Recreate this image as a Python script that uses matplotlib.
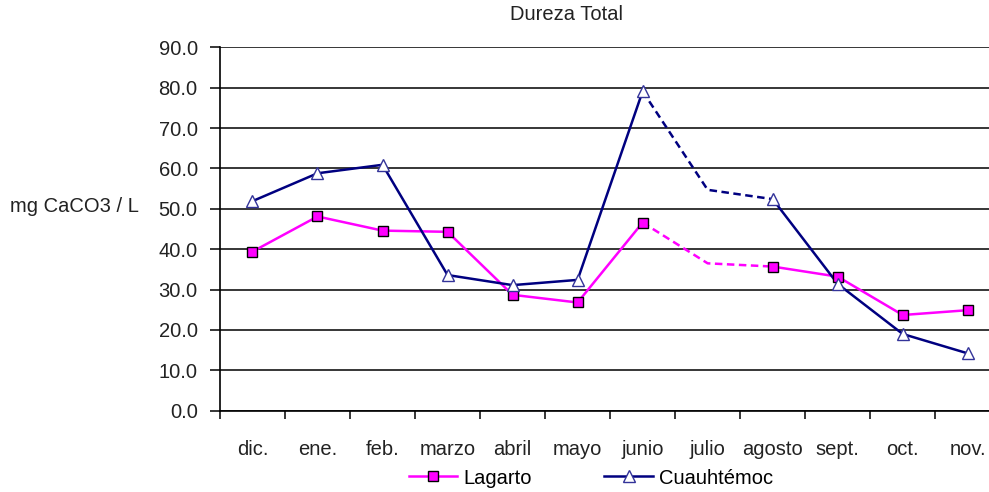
import numpy as np
import matplotlib
matplotlib.use("Agg")
import matplotlib.pyplot as plt
from matplotlib.lines import Line2D

plt.rcParams['font.family'] = ['Liberation Sans', 'DejaVu Sans']

meses = ["dic.", "ene.", "feb.", "marzo", "abril", "mayo", "junio",
         "julio", "agosto", "sept.", "oct.", "nov."]
lagarto = [39.4, 48.1, 44.6, 44.3, 28.7, 26.8, 46.6, 36.5, 35.7, 33.2, 23.7, 24.9]
cuauhtemoc = [51.9, 58.8, 60.9, 33.6, 31.1, 32.4, 79.1, 54.7, 52.4, 31.4, 19.0, 14.2]
# julio sin marcador, tramos junio-agosto a trazos
sin_marca = 7

fs = 14.5
fig = plt.figure(figsize=(9.89, 4.92), dpi=100)
ax = fig.add_axes([0.2224, 0.1652, 0.789, 0.7387])

x = np.arange(len(meses))


def dibujar(vals, color, marker, mfc, mec, ms):
    v = np.array(vals)
    # tramos continuos
    ax.plot(x[:7], v[:7], color=color, lw=1.8, zorder=3)
    ax.plot(x[8:], v[8:], color=color, lw=1.8, zorder=3)
    ax.plot(x[6:9], v[6:9], color=color, lw=1.8, ls=(0, (3, 1.8)), zorder=3)
    idx = [i for i in range(len(v)) if i != sin_marca]
    ax.plot(x[idx], v[idx], ls="none", marker=marker, mfc=mfc, mec=mec,
            ms=ms, mew=1.0, zorder=4)


dibujar(lagarto, "#FF00FF", "s", "#FF00FF", "black", 7)
dibujar(cuauhtemoc, "#000080", "^", "white", "#333399", 9)

ax.set_xlim(-0.5, len(meses) - 0.5)
ax.set_ylim(0, 90)
ax.set_yticks(np.arange(0, 91, 10))
ax.set_yticklabels(["%.1f" % t for t in np.arange(0, 91, 10)], fontsize=fs, color="#222222")
ax.yaxis.grid(True, color="black", lw=1.1)
ax.set_axisbelow(True)

ax.set_xticks(np.arange(-0.5, len(meses), 1.0))
ax.set_xticklabels([])
ax.set_xticks(x, minor=True)
ax.set_xticklabels(meses, minor=True, fontsize=fs, color="#222222")
ax.tick_params(axis="x", which="minor", length=0, pad=21)
ax.tick_params(axis="x", which="major", length=6, width=1.1, direction="out")
ax.tick_params(axis="y", length=7, width=1.1, pad=9)

for s in ["top", "right"]:
    ax.spines[s].set_visible(False)
ax.spines["left"].set_linewidth(1.2)
ax.spines["bottom"].set_linewidth(1.2)

fig.text(567 / 989, 1 - 15 / 492, "Dureza Total", ha="center", va="center",
         fontsize=fs, color="#222222")
fig.text(10 / 989, 1 - 207 / 492, "mg CaCO3 / L", ha="left", va="center",
         fontsize=fs, color="#222222")

h1 = Line2D([], [], color="#FF00FF", lw=1.8, marker="s", mfc="#FF00FF", mec="black", ms=7)
h2 = Line2D([], [], color="#000080", lw=1.8, marker="^", mfc="white", mec="#333399", ms=9)
fig.legend([h1, h2], ["Lagarto", "Cuauhtémoc"], loc="center",
           bbox_to_anchor=(591 / 989, 1 - 478 / 492), ncol=2, frameon=False,
           fontsize=fs, handlelength=2.4, columnspacing=3.6, handletextpad=0.3)

fig.savefig("out.png", dpi=100)
